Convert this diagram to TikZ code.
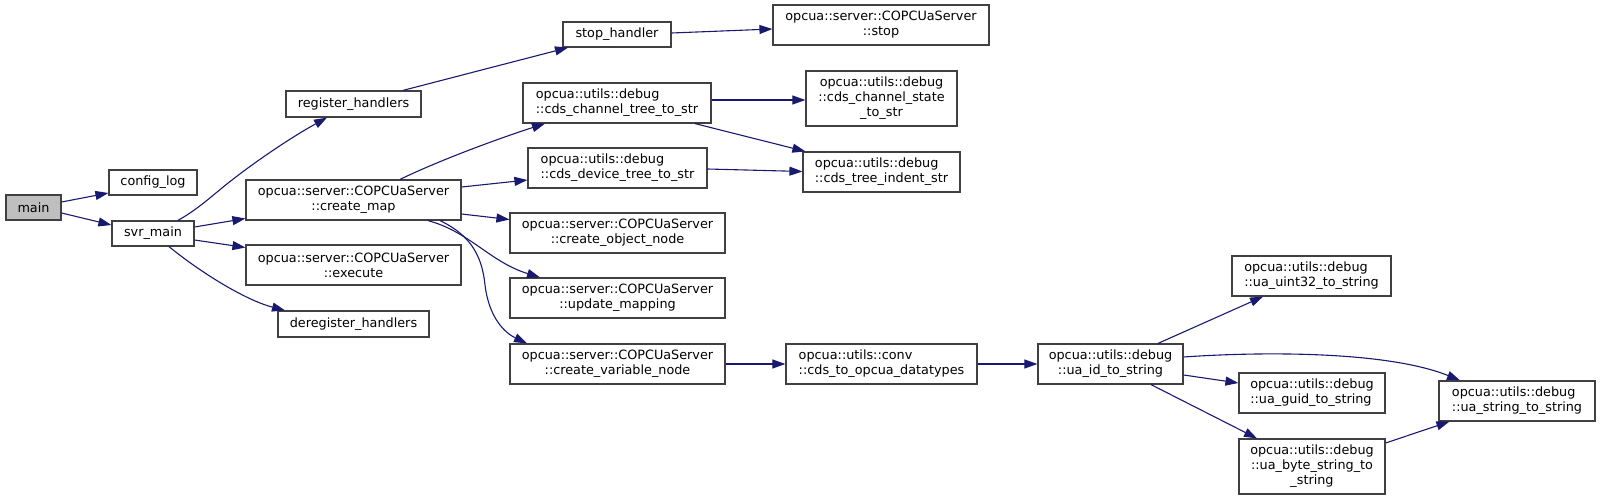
\documentclass[tikz,border=0pt]{standalone}
\usepackage{fontspec}
\setmainfont{DejaVu Sans}
\usetikzlibrary{arrows.meta,calc}
\definecolor{edgeblue}{HTML}{191970}
\definecolor{boxline}{HTML}{404040}
\definecolor{mainfill}{HTML}{BFBFBF}
\tikzset{
  fbox/.style={draw=boxline, line width=1.2pt, fill=white, inner sep=0pt,
    font=\fontsize{12.8}{15}\selectfont, align=center},
  fboxl/.style={fbox, align=left},
  call/.style={draw=edgeblue, line width=1.1pt, -{Triangle[length=13pt,width=9pt]}},
}
\begin{document}
\begin{tikzpicture}[x=1pt,y=-1pt]
\useasboundingbox (0,0) rectangle (1600,500);
% nodes
\node[fbox, fill=mainfill, minimum width=55pt, minimum height=25pt] (main) at (33.5,207.5) {main};
\node[fbox, minimum width=88pt, minimum height=25pt] (clog) at (153,182.5) {config\_log};
\node[fbox, minimum width=82pt, minimum height=25pt] (svr) at (153,233.5) {svr\_main};
\node[fbox, minimum width=135pt, minimum height=26pt] (reg) at (353.5,104) {register\_handlers};
\node[fbox, minimum width=215pt, minimum height=40pt] (cmap) at (353.5,200) {opcua::server::COPCUaServer\\::create\_map};
\node[fbox, minimum width=215pt, minimum height=40pt] (exec) at (353.5,265) {opcua::server::COPCUaServer\\::execute};
\node[fbox, minimum width=151pt, minimum height=26pt] (dereg) at (353.5,324) {deregister\_handlers};
\node[fbox, minimum width=108pt, minimum height=25pt] (stoph) at (617,34.5) {stop\_handler};
\node[fbox, minimum width=216pt, minimum height=40pt] (stop) at (881,25) {opcua::server::COPCUaServer\\::stop};
\node[fboxl, minimum width=188pt, minimum height=40pt] (cctree) at (617,103) {opcua::utils::debug\\::cds\_channel\_tree\_to\_str};
\node[fboxl, minimum width=179pt, minimum height=40pt] (cdtree) at (617.5,168) {opcua::utils::debug\\::cds\_device\_tree\_to\_str};
\node[fbox, minimum width=215pt, minimum height=40pt] (cobj) at (617.5,233) {opcua::server::COPCUaServer\\::create\_object\_node};
\node[fbox, minimum width=215pt, minimum height=40pt] (umap) at (617.5,298) {opcua::server::COPCUaServer\\::update\_mapping};
\node[fbox, minimum width=215pt, minimum height=40pt] (cvar) at (617.5,364) {opcua::server::COPCUaServer\\::create\_variable\_node};
\node[fbox, minimum width=151pt, minimum height=55pt] (cstate) at (881.5,98.5) {opcua::utils::debug\\::cds\_channel\_state\\\_to\_str};
\node[fboxl, minimum width=157pt, minimum height=40pt] (indent) at (881.5,172) {opcua::utils::debug\\::cds\_tree\_indent\_str};
\node[fboxl, minimum width=191pt, minimum height=40pt] (c2o) at (881.5,364) {opcua::utils::conv\\::cds\_to\_opcua\_datatypes};
\node[fbox, minimum width=145pt, minimum height=40pt] (uaid) at (1110.5,364) {opcua::utils::debug\\::ua\_id\_to\_string};
\node[fboxl, minimum width=159pt, minimum height=40pt] (u32) at (1311.5,276) {opcua::utils::debug\\::ua\_uint32\_to\_string};
\node[fboxl, minimum width=146pt, minimum height=40pt] (guid) at (1312,393) {opcua::utils::debug\\::ua\_guid\_to\_string};
\node[fbox, minimum width=146pt, minimum height=55pt] (bstr) at (1312,466.5) {opcua::utils::debug\\::ua\_byte\_string\_to\\\_string};
\node[fboxl, minimum width=156pt, minimum height=40pt] (uastr) at (1517,401) {opcua::utils::debug\\::ua\_string\_to\_string};
% edges
\draw[call] ($(main.east)+(0,-5.5)$) -- ($(clog.west)+(0,10.5)$);
\draw[call] ($(main.east)+(0,5.5)$) -- ($(svr.west)+(0,-8.5)$);
\draw[call] ($(svr.north)+(25,0)$) .. controls (200,208) and (215,193) .. (232,180) .. controls (255,162) and (290,138) .. ($(reg.south)+(-26.5,0)$);
\draw[call] ($(svr.east)+(0,-6.5)$) -- ($(cmap.west)+(0,18.5)$);
\draw[call] ($(svr.east)+(0,6.5)$) -- ($(exec.west)+(0,-17.5)$);
\draw[call] ($(svr.south)+(16,0)$) .. controls (200,272) and (245,300) .. ($(dereg.north)+(-68.5,0)$);
\draw[call] ($(reg.north)+(49.5,0)$) -- ($(stoph.south)+(-49,0)$);
\draw[call] ($(stoph.east)+(0,-1.5)$) -- ($(stop.west)+(0,4)$);
\draw[call] ($(cmap.north)+(46.5,0)$) .. controls (440,160) and (500,138) .. ($(cctree.south)+(-72,0)$);
\draw[call] ($(cmap.east)+(0,-13)$) -- ($(cdtree.west)+(0,12)$);
\draw[call] ($(cmap.east)+(0,14)$) -- ($(cobj.west)+(0,-13.5)$);
\draw[call] ($(cmap.south)+(74.5,0)$) .. controls (470,232) and (490,262) .. ($(umap.north)+(-77.5,0)$);
\draw[call] ($(cmap.south)+(86.5,0)$) .. controls (470,235) and (482,255) .. (485,285) .. controls (489,318) and (505,333) .. ($(cvar.north)+(-90.5,0)$);
\draw[call] ($(cctree.east)+(0,-3)$) -- ($(cstate.west)+(0,1.5)$);
\draw[call] ($(cctree.south)+(78,0)$) -- ($(indent.north west)+(3,0)$);
\draw[call] ($(cdtree.east)+(0,1)$) -- ($(indent.west)+(0,-0.5)$);
\draw[call] (cvar.east) -- (c2o.west);
\draw[call] (c2o.east) -- (uaid.west);
\draw[call] ($(uaid.north)+(47.5,0)$) -- ($(u32.south)+(-48.5,0)$);
\draw[call] ($(uaid.east)+(0,-7)$) .. controls (1270,351) and (1390,352) .. ($(uastr.north)+(-57,0)$);
\draw[call] ($(uaid.east)+(0,11)$) -- ($(guid.west)+(0,-10)$);
\draw[call] ($(uaid.south)+(40.5,0)$) -- ($(bstr.north)+(-55,0)$);
\draw[call] ($(bstr.east)+(0,-23.5)$) -- ($(uastr.south west)+(11,0)$);
\end{tikzpicture}
\end{document}
